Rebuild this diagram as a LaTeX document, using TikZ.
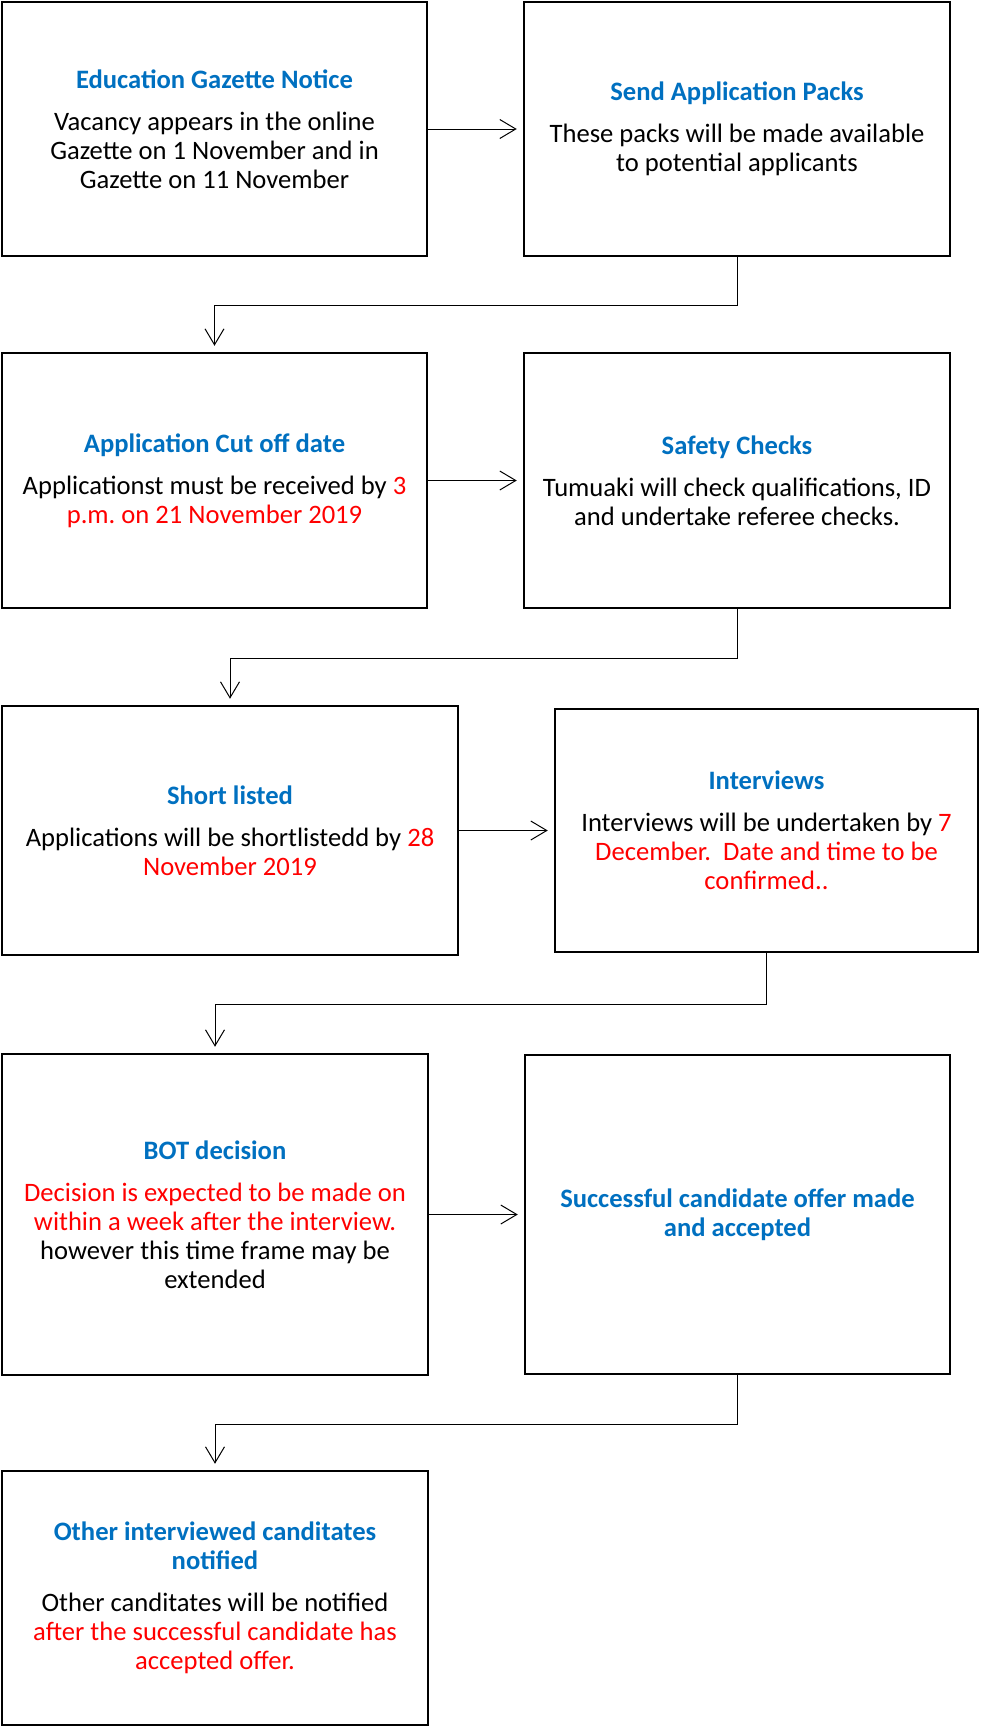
\documentclass[tikz,border=0pt]{standalone}
\usepackage{fontspec}
\setmainfont{Carlito}
\usetikzlibrary{arrows.meta}
\definecolor{tblue}{HTML}{0070C0}
\definecolor{tred}{HTML}{FF0000}
\frenchspacing
\tikzset{
  box/.style={draw=black, line width=2.5pt, align=center, inner sep=0pt,
    font=\fontsize{26.6}{29}\selectfont},
  conn/.style={draw=black, line width=1pt,
    -{Straight Barb[length=16pt, width=19pt, line width=1pt]}, shorten >=6pt},
}
\newcommand{\ttl}[1]{\textcolor{tblue}{\bfseries #1}}
\newcommand{\rd}[1]{\textcolor{tred}{#1}}
\begin{document}
\begin{tikzpicture}[x=1pt, y=-1pt]
\useasboundingbox (0,0) rectangle (980,1727);

\node[box, minimum width=425pt, minimum height=254pt] (b1) at (214.5,129)
  {\ttl{Education Gazette Notice}\\[13pt]
   Vacancy appears in the online\\Gazette on 1 November and in\\Gazette on 11 November};
\node[box, minimum width=426pt, minimum height=254pt] (b2) at (737,129)
  {\ttl{Send Application Packs}\\[13pt]
   These packs will be made available\\to potential applicants};

\node[box, minimum width=425pt, minimum height=255pt] (b3) at (214.5,480.5)
  {\ttl{Application Cut off date}\\[13pt]
   Applicationst must be received by \rd{3}\\\rd{p.m. on 21 November 2019}};
\node[box, minimum width=426pt, minimum height=255pt] (b4) at (737,480.5)
  {\ttl{Safety Checks}\\[13pt]
   Tumuaki will check qualifications, ID\\and undertake referee checks.};

\node[box, minimum width=456pt, minimum height=249pt] (b5) at (230,830.5)
  {\ttl{Short listed}\\[13pt]
   Applications will be shortlistedd by \rd{28}\\\rd{November 2019}};
\node[box, minimum width=423pt, minimum height=243pt] (b6) at (766.5,830.5)
  {\ttl{Interviews}\\[13pt]
   Interviews will be undertaken by \rd{7}\\\rd{December.~ Date and time to be}\\\rd{confirmed..}};

\node[box, minimum width=426pt, minimum height=321pt] (b7) at (215,1214.5)
  {\ttl{BOT decision}\\[13pt]
   \rd{Decision is expected to be made on}\\\rd{within a week after the interview.}\\
   however this time frame may be\\extended};
\node[box, minimum width=425pt, minimum height=319pt] (b8) at (737.5,1214.5)
  {\ttl{Successful candidate offer made}\\\ttl{and accepted}};

\node[box, minimum width=426pt, minimum height=254pt] (b9) at (215,1598)
  {\ttl{Other interviewed canditates}\\\ttl{notified}\\[13pt]
   Other canditates will be notified\\\rd{after the successful candidate has}\\\rd{accepted offer.}};

\draw[conn] (b1.east) -- (b2.west);
\draw[conn] (b3.east) -- (b4.west);
\draw[conn] (b5.east) -- (b6.west);
\draw[conn] (b7.east) -- (b8.west);

\draw[conn] (b2.south) -- ++(0,48) -| (b3.north);
\draw[conn] (b4.south) -- ++(0,49) -| (b5.north);
\draw[conn] (b6.south) -- ++(0,51) -| (b7.north);
\draw[conn] (b8.south) -- ++(0,49) -| (b9.north);
\end{tikzpicture}
\end{document}
